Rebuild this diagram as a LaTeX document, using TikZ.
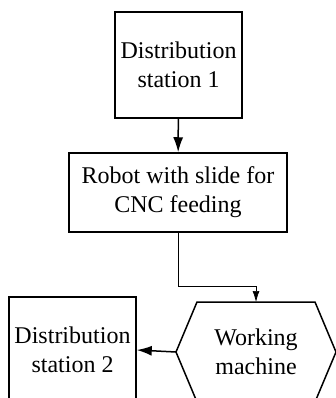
\documentclass[tikz,border=0pt]{standalone}
\usepackage{fontspec}
\setmainfont{Liberation Serif}
\usetikzlibrary{arrows.meta}

\begin{document}
\begin{tikzpicture}[x=1pt,y=-1pt,
    txt/.style={align=center,inner sep=0pt,font=\fontsize{24}{29}\selectfont},
    block/.style={txt,draw,line width=1.5pt},
    flow/.style={line width=1.5pt,-{Latex[length=15pt,width=10pt]}},
    feed/.style={line width=.7pt,-{Latex[length=11pt,width=7pt]}}]
  \clip (0,0) rectangle (336,398);

  \node[block,minimum width=127,minimum height=106] (ds1) at (178.5,65) {Distribution\\station 1};
  \node[block,minimum width=218,minimum height=79] (robot) at (178,192.5) {Robot with slide for\\CNC feeding};
  \node[block,minimum width=127,minimum height=106] (ds2) at (72.5,350) {Distribution\\station 2};

  % working machine, drawn as a hexagon round its text
  \node[txt] (wm) at (256,352) {Working\\machine};
  \draw[line width=1.5pt] (wm.center) ++(-80,0) coordinate (wmw) -- ++(21,-50) coordinate (wmtl)
    -- ++(118,0) -- ++(21,50) -- ++(-21,50) -- ++(-118,0) -- cycle;
  \coordinate (wmn) at (wm.center |- wmtl);

  \draw[flow] (ds1) -- (robot);
  \draw[feed] (robot.south) -- ++(0,54) -| (wmn);
  \draw[flow] (wmw) -- (ds2.east);
\end{tikzpicture}
\end{document}
